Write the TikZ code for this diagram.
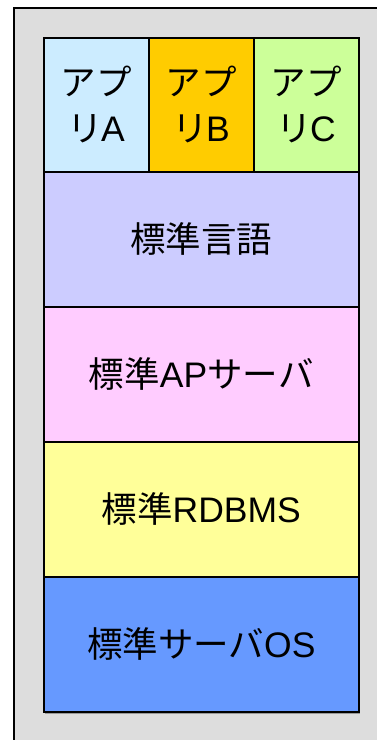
\documentclass[tikz,border=0pt]{standalone}
\usepackage{fontspec}
\setmainfont{Liberation Sans}
\newfontfamily\jp{Noto Sans CJK JP}
\definecolor{bggray}{HTML}{DDDDDD}
\definecolor{appA}{HTML}{CCECFF}
\definecolor{appB}{HTML}{FFCC00}
\definecolor{appC}{HTML}{CCFF99}
\definecolor{lang}{HTML}{CCCCFF}
\definecolor{apsv}{HTML}{FFCCFF}
\definecolor{rdb}{HTML}{FFFF99}
\definecolor{os}{HTML}{6699FF}
\begin{document}
\begin{tikzpicture}[x=1pt,y=-1pt,
  layerbox/.style={draw=black, line width=1.5pt, minimum width=315pt, minimum height=135pt,
    anchor=north west, inner sep=0pt, align=center,
    font=\fontsize{35.5}{46}\selectfont},
  appbox/.style={layerbox, minimum width=105pt, minimum height=134pt}]
\useasboundingbox (0,0) rectangle (376,740);
\node[draw=black, fill=bggray, line width=1.5pt, anchor=north west, minimum width=380pt, minimum height=750pt, inner sep=0pt] (frame) at (13,7) {};
\fill[black!40] (45,39) rectangle (360,714);
\node[appbox, fill=appA] (a) at (43,37) {{\jp アプ}\\{\jp リ}\kern-2pt A};
\node[appbox, fill=appB] (b) at (148,37) {{\jp アプ}\\{\jp リ}\kern-2pt B};
\node[appbox, fill=appC] (c) at (253,37) {{\jp アプ}\\{\jp リ}\kern-2pt C};
\node[layerbox, fill=lang] (l) at (43,171) {{\jp 標準言語}};
\node[layerbox, fill=apsv] (p) at (43,306) {{\jp 標準}AP{\jp サーバ}};
\node[layerbox, fill=rdb] (r) at (43,441) {{\jp 標準}RDBMS};
\node[layerbox, fill=os] (o) at (43,576) {{\jp 標準サーバ}OS};
\end{tikzpicture}
\end{document}
